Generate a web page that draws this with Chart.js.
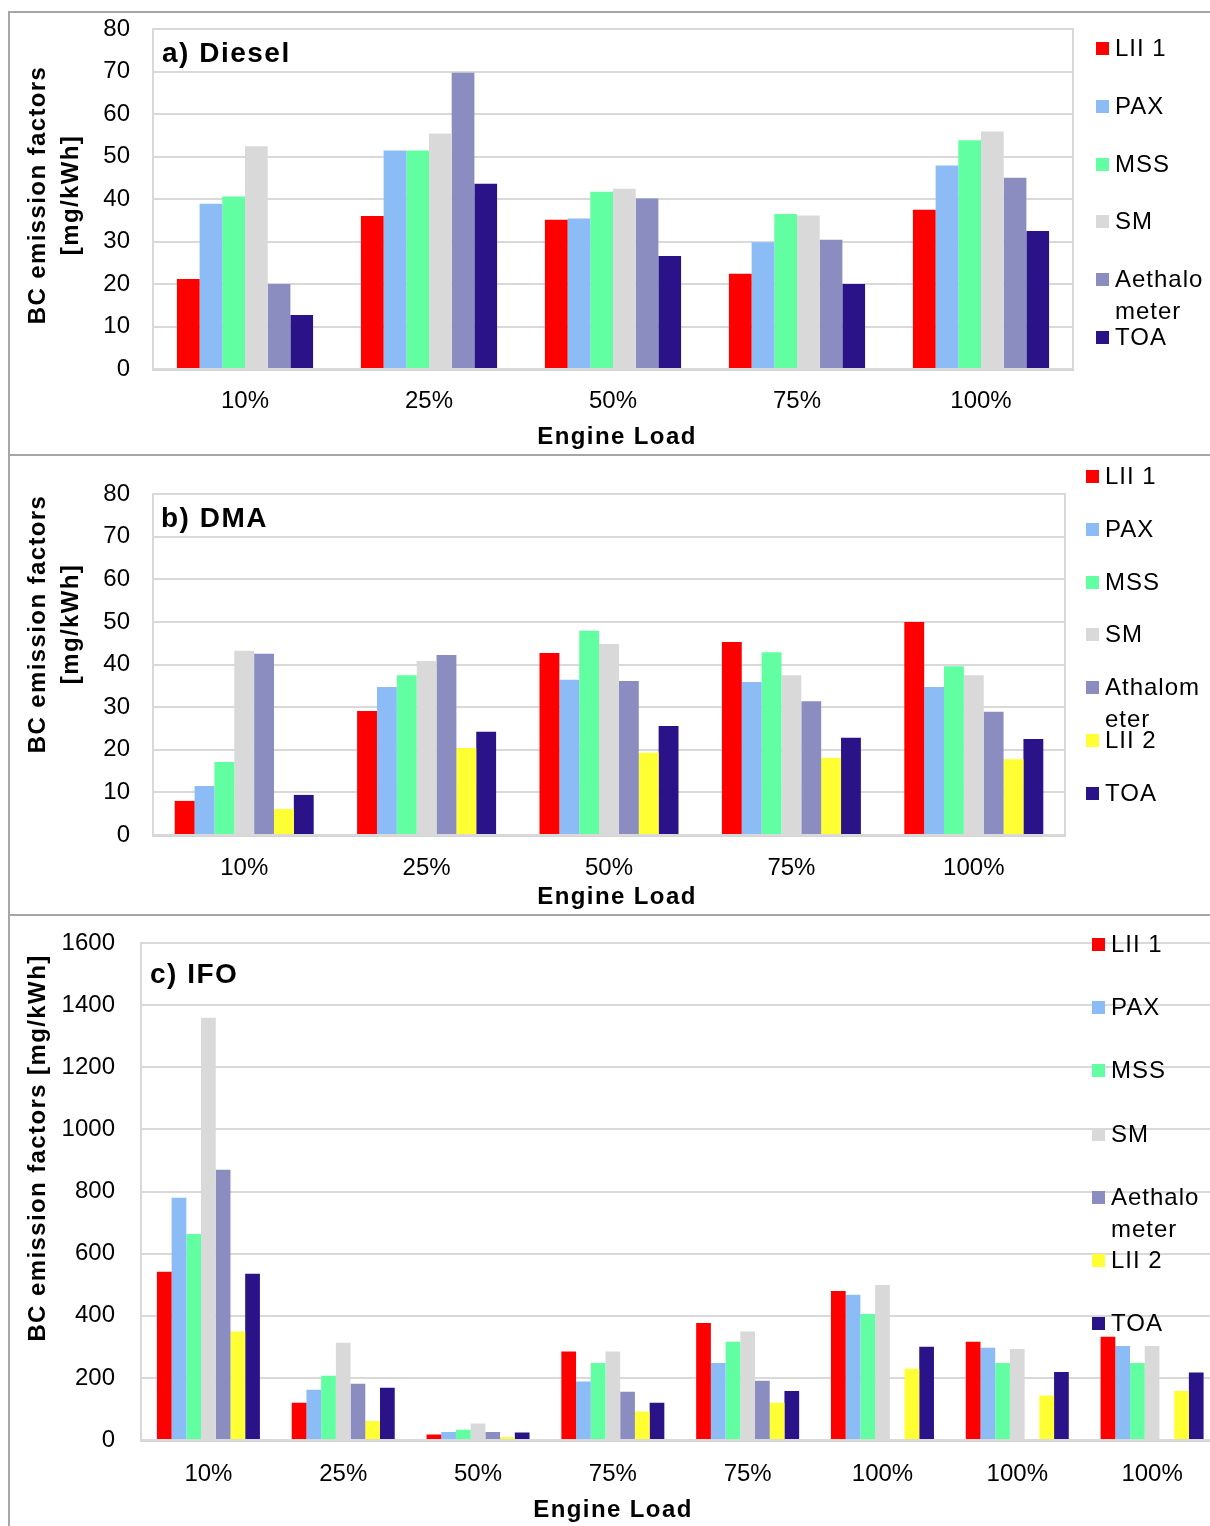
<!DOCTYPE html>
<html>
<head>
<meta charset="utf-8">
<script src="https://cdn.jsdelivr.net/npm/chart.js@4.4.1/dist/chart.umd.min.js"></script>
<style>
  html, body { margin: 0; padding: 0; background: #fff; overflow: hidden; width: 1210px; height: 1526px; }
  canvas { position: absolute; left: 0; }
  .frame { position: absolute; background: #a6a6a6; }
  .leg { position: absolute; font: 24px "Liberation Sans", Arial, sans-serif; letter-spacing: 1px; line-height: 32px; color: #000; white-space: nowrap; }
  .mark { position: absolute; display: block; width: 13px; height: 13px; }
</style>
</head>
<body>
<div class="frame" style="left:8px;top:11px;width:1202px;height:2px"></div>
<div class="frame" style="left:8px;top:454px;width:1202px;height:2px"></div>
<div class="frame" style="left:8px;top:914px;width:1202px;height:2px"></div>
<div class="frame" style="left:8px;top:11px;width:2px;height:1515px"></div>
<canvas id="chartA" width="1210" height="442" style="top:13px"></canvas>
<canvas id="chartB" width="1210" height="458" style="top:456px"></canvas>
<canvas id="chartC" width="1225" height="610" style="top:916px"></canvas>
<div id="legends"></div>
<script>
// categories
const loadsAB = ['10%', '25%', '50%', '75%', '100%'];
const loadsC = ['10%', '25%', '50%', '75%', '75%', '100%', '100%', '100%'];

// a) Diesel
const dieselNames = ['LII 1', 'PAX', 'MSS', 'SM', 'Aethalometer', 'TOA'];
const dieselLII1 = [21.2, 36.0, 35.1, 22.4, 37.5];
const dieselPAX = [38.9, 51.4, 35.4, 29.8, 47.9];
const dieselMSS = [40.6, 51.4, 41.7, 36.5, 53.8];
const dieselSM = [52.4, 55.4, 42.4, 36.1, 55.9];
const dieselAeth = [20.0, 69.7, 40.1, 30.4, 45.0];
const dieselTOA = [12.7, 43.6, 26.6, 20.0, 32.5];

// b) DMA
const dmaNames = ['LII 1', 'PAX', 'MSS', 'SM', 'Athalometer', 'LII 2', 'TOA'];
const dmaLII1 = [8.0, 29.1, 42.7, 45.3, 50.0];
const dmaPAX = [11.5, 34.7, 36.4, 35.9, 34.7];
const dmaMSS = [17.1, 37.5, 47.9, 42.9, 39.6];
const dmaSM = [43.2, 40.8, 44.8, 37.5, 37.5];
const dmaAeth = [42.5, 42.2, 36.1, 31.4, 28.9];
const dmaLII2 = [6.1, 20.4, 19.3, 18.1, 17.8];
const dmaTOA = [9.4, 24.2, 25.6, 22.8, 22.5];

// c) IFO
const ifoNames = ['LII 1', 'PAX', 'MSS', 'SM', 'Aethalometer', 'LII 2', 'TOA'];
const ifoLII1 = [542, 120, 18, 285, 377, 480, 316, 332];
const ifoPAX = [780, 162, 26, 188, 248, 468, 297, 303];
const ifoMSS = [663, 207, 33, 248, 316, 406, 248, 248];
const ifoSM = [1359, 313, 53, 285, 349, 499, 293, 303];
const ifoAeth = [870, 181, 26, 155, 191, null, null, null];
const ifoLII2 = [349, 61, 10, 92, 120, 229, 143, 158];
const ifoTOA = [535, 168, 24, 120, 158, 300, 219, 217];

// y tick settings
const yMaxAB = 80, yStepAB = 10;
const yMaxC = 1600, yStepC = 200;

const colors = {
    'LII 1': '#ff0000',
    'PAX': '#8cbcf5',
    'MSS': '#62ffa2',
    'SM': '#d9d9d9',
    'Aethalometer': '#8b8cc0',
    'Athalometer': '#8b8cc0',
    'LII 2': '#ffff33',
    'TOA': '#2a1289'
};

Chart.defaults.font.family = '"Liberation Sans", Arial, sans-serif';
Chart.defaults.color = '#000';

const FONT = '"Liberation Sans", Arial, sans-serif';

// frame of the plot area, panel label and axis titles
const panelDecor = {
    id: 'panelDecor',
    beforeDatasetsDraw(chart) {
        const { ctx, chartArea: a } = chart;
        ctx.save();
        ctx.strokeStyle = '#d9d9d9';
        ctx.lineWidth = 2;
        ctx.strokeRect(a.left, a.top, a.right - a.left, a.bottom - a.top);
        ctx.restore();
    },
    afterDraw(chart, args, o) {
        const ctx = chart.ctx;
        ctx.save();
        ctx.fillStyle = '#000';
        ctx.letterSpacing = '1.5px';
        ctx.font = 'bold 28px ' + FONT;
        ctx.textAlign = 'left';
        ctx.textBaseline = 'alphabetic';
        ctx.fillText(o.label, o.labelX, o.labelY);

        ctx.letterSpacing = '1.4px';
        ctx.font = 'bold 24px ' + FONT;
        ctx.textAlign = 'center';
        ctx.textBaseline = 'middle';
        ctx.fillText('Engine Load', o.xTitleX, o.xTitleY);

        o.yTitle.forEach((line, i) => {
            ctx.save();
            ctx.translate(o.yTitleX[i], o.yTitleY);
            ctx.rotate(-Math.PI / 2);
            ctx.fillText(line, 0, 0);
            ctx.restore();
        });
        ctx.restore();
    }
};

function makeDatasets(names, series, barFrac) {
    return names.map((name, i) => ({
        label: name,
        data: series[i],
        backgroundColor: colors[name],
        borderWidth: 0,
        categoryPercentage: barFrac,
        barPercentage: 1.0
    }));
}

function makeChart(id, labels, datasets, p) {
    return new Chart(document.getElementById(id), {
        type: 'bar',
        data: { labels: labels, datasets: datasets },
        plugins: [panelDecor],
        options: {
            responsive: false,
            animation: false,
            layout: { padding: { left: 0, top: p.top, right: p.right, bottom: 0 } },
            plugins: {
                legend: { display: false },
                tooltip: { enabled: false },
                panelDecor: p.decor
            },
            scales: {
                x: {
                    grid: { display: false },
                    border: { display: true, color: '#d4d4d4', width: 3 },
                    ticks: { font: { size: 24 }, padding: p.xPad, maxRotation: 0, autoSkip: false },
                    afterFit: s => {
                        s.height = p.xHeight;
                        s.paddingLeft = 0;
                        s.paddingRight = 0;
                    }
                },
                y: {
                    min: 0,
                    max: p.max,
                    grid: { color: '#d9d9d9', lineWidth: 2, drawTicks: false },
                    border: { display: false },
                    ticks: {
                        stepSize: p.step,
                        font: { size: 24 },
                        padding: p.yPad,
                        callback: v => String(v)
                    },
                    afterFit: s => {
                        s.width = p.yWidth;
                        s.paddingTop = 0;
                        s.paddingBottom = 0;
                    }
                }
            }
        }
    });
}

makeChart('chartA', loadsAB,
    makeDatasets(dieselNames, [dieselLII1, dieselPAX, dieselMSS, dieselSM, dieselAeth, dieselTOA], 0.74),
    {
        top: 16, right: 137, xHeight: 86, yWidth: 153, xPad: 10, yPad: 23, max: yMaxAB, step: yStepAB,
        decor: {
            label: 'a) Diesel', labelX: 162, labelY: 49,
            xTitleX: 617, xTitleY: 424,
            yTitle: ['BC emission factors', '[mg/kWh]'], yTitleX: [38, 71], yTitleY: 182
        }
    });

makeChart('chartB', loadsAB,
    makeDatasets(dmaNames, [dmaLII1, dmaPAX, dmaMSS, dmaSM, dmaAeth, dmaLII2, dmaTOA], 0.762),
    {
        top: 38, right: 145, xHeight: 79, yWidth: 153, xPad: 11, yPad: 23, max: yMaxAB, step: yStepAB,
        decor: {
            label: 'b) DMA', labelX: 161, labelY: 71,
            xTitleX: 617, xTitleY: 441,
            yTitle: ['BC emission factors', '[mg/kWh]'], yTitleX: [38, 71], yTitleY: 168
        }
    });

makeChart('chartC', loadsC,
    makeDatasets(ifoNames, [ifoLII1, ifoPAX, ifoMSS, ifoSM, ifoAeth, ifoLII2, ifoTOA], 0.764),
    {
        top: 27, right: 5.5, xHeight: 86, yWidth: 141, xPad: 12, yPad: 26, max: yMaxC, step: yStepC,
        decor: {
            label: 'c) IFO', labelX: 150, labelY: 67,
            xTitleX: 613, xTitleY: 594,
            yTitle: ['BC emission factors [mg/kWh]'], yTitleX: [38], yTitleY: 232
        }
    });

// legends (html), long names wrap after 7 letters like the original
function makeLegend(names, x, y0, step) {
    const box = document.getElementById('legends');
    names.forEach((name, i) => {
        const cy = y0 + i * step;
        const text = name.length > 8 ? name.slice(0, 7) + '<br>' + name.slice(7) : name;
        const d = document.createElement('div');
        d.className = 'leg';
        d.style.left = (x + 19) + 'px';
        d.style.top = (cy - 16) + 'px';
        d.innerHTML = text;
        box.appendChild(d);
        const m = document.createElement('span');
        m.className = 'mark';
        m.style.left = x + 'px';
        m.style.top = (cy - 6) + 'px';
        m.style.background = colors[name];
        box.appendChild(m);
    });
}

makeLegend(dieselNames, 1096, 48, 57.8);
makeLegend(dmaNames, 1086, 476, 52.8);
makeLegend(ifoNames, 1092, 944, 63.2);
</script>
</body>
</html>
